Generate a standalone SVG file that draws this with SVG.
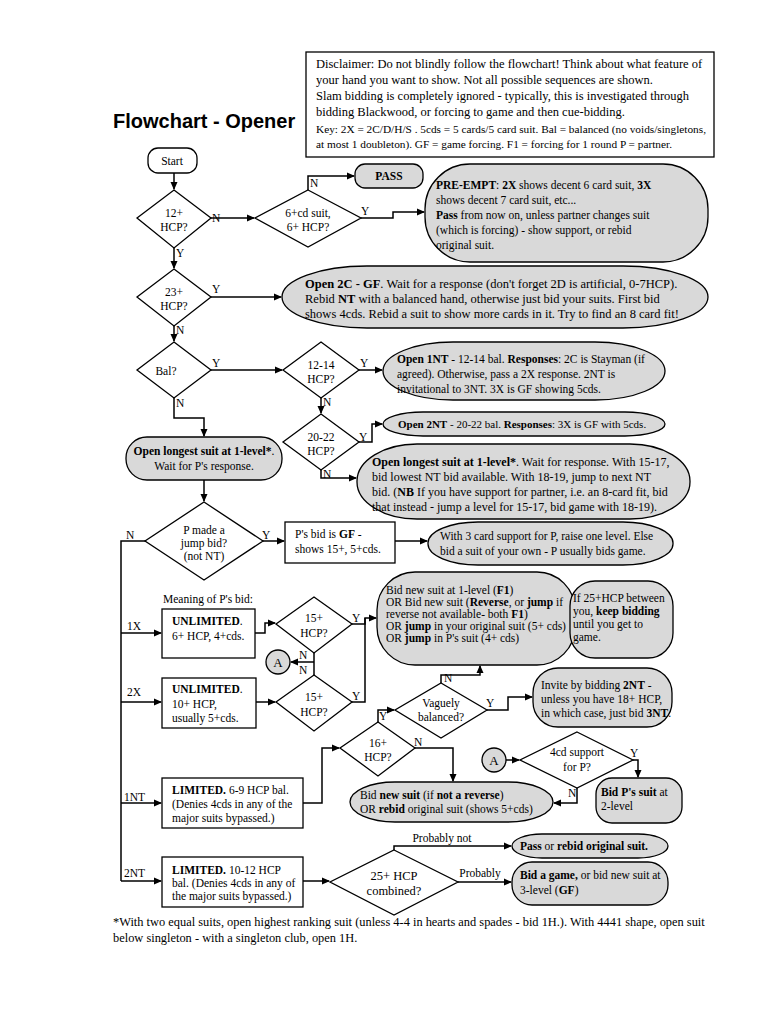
<svg xmlns="http://www.w3.org/2000/svg" width="768" height="1024" viewBox="0 0 768 1024">
<defs>
<marker id="ah" markerWidth="8" markerHeight="8" refX="7" refY="4" orient="auto" markerUnits="userSpaceOnUse">
<path d="M0,0.5 L8,4 L0,7.5 Z" fill="#000"/>
</marker>
<style>
.t{font-family:"Liberation Serif","Times New Roman",serif;font-size:11.5px;fill:#000}
.m{text-anchor:middle}
.b{font-weight:bold}
.w{fill:#fff;stroke:#000;stroke-width:1.3}
.g{fill:#d9d9d9;stroke:#000;stroke-width:1.3}
.c{fill:none;stroke:#000;stroke-width:1.5}
.a{marker-end:url(#ah)}
.lb{font-family:"Liberation Serif","Times New Roman",serif;font-size:11.5px;fill:#000}
</style>
</defs>
<rect width="768" height="1024" fill="#fff"/>

<text x="113" y="128" style="font-family:'Liberation Sans',Arial,sans-serif;font-size:20px;font-weight:bold">Flowchart - Opener</text>

<g id="disclaimer">
<rect x="306" y="52" width="408" height="105" class="w"/>
<text class="t" x="316" y="68" style="font-size:12.5px">Disclaimer: Do not blindly follow the flowchart! Think about what feature of</text>
<text class="t" x="316" y="84" style="font-size:12.5px">your hand you want to show. Not all possible sequences are shown.</text>
<text class="t" x="316" y="100" style="font-size:12.5px">Slam bidding is completely ignored - typically, this is investigated through</text>
<text class="t" x="316" y="116" style="font-size:12.5px">bidding Blackwood, or forcing to game and then cue-bidding.</text>
<text class="t" x="316" y="133" style="font-size:11.3px">Key: 2X = 2C/D/H/S . 5cds = 5 cards/5 card suit. Bal = balanced (no voids/singletons,</text>
<text class="t" x="316" y="148" style="font-size:11.3px">at most 1 doubleton). GF = game forcing. F1 = forcing for 1 round P = partner.</text>
</g>

<g id="connectors">
<path class="c a" d="M174,173 V189"/>
<path class="c a" d="M211,218 H254"/>
<path class="c a" d="M308,190 V176 H354"/>
<path class="c a" d="M361,218 H393 V212 H424"/>
<path class="c a" d="M174,248 V268"/>
<path class="c a" d="M211,297 H281"/>
<path class="c a" d="M174,326 V341"/>
<path class="c a" d="M211,370 H282"/>
<path class="c a" d="M359,370 H382"/>
<path class="c a" d="M321,398 V413"/>
<path class="c a" d="M359,442 H372 V424 H382"/>
<path class="c a" d="M321,470 V478 H356"/>
<path class="c a" d="M174,398 V418 H204 V436"/>
<path class="c a" d="M204,480 V501"/>
<path class="c a" d="M263,541 H284"/>
<path class="c a" d="M395,541 H427"/>
<path class="c" d="M145,541 H121 V881"/>
<path class="c a" d="M121,633 H161"/>
<path class="c a" d="M121,702 H161"/>
<path class="c a" d="M121,803 H161"/>
<path class="c a" d="M121,881 H161"/>
<path class="c a" d="M255,633 H265 V623 H275"/>
<path class="c a" d="M256,702 H275"/>
<path class="c a" d="M352,624 H365 V618 H376"/>
<path class="c" d="M352,702 H365 V618"/>
<path class="c" d="M314,653 V675"/>
<path class="c a" d="M314,662 H291"/>
<path class="c a" d="M303,803 H322 V748 H339"/>
<path class="c a" d="M378,722 V710 H394"/>
<path class="c a" d="M441,683 V675 H480 V666"/>
<path class="c a" d="M487,710 H508 V697 H532"/>
<path class="c a" d="M415,748 H453 V781"/>
<path class="c a" d="M506,760 H519"/>
<path class="c a" d="M633,760 H638 V777"/>
<path class="c a" d="M577,788 V803 H554"/>
<path class="c a" d="M303,881 H329"/>
<path class="c a" d="M394,850 V846 H511"/>
<path class="c a" d="M458,882 H511"/>
</g>

<g id="edge-labels">
<text class="lb" x="212" y="222">N</text>
<text class="lb" x="176" y="257">Y</text>
<text class="lb" x="310" y="187">N</text>
<text class="lb" x="361" y="215">Y</text>
<text class="lb" x="212" y="293">Y</text>
<text class="lb" x="176" y="334">N</text>
<text class="lb" x="212" y="367">Y</text>
<text class="lb" x="176" y="407">N</text>
<text class="lb" x="360" y="367">Y</text>
<text class="lb" x="323" y="406">N</text>
<text class="lb" x="359" y="441">Y</text>
<text class="lb" x="323" y="478">N</text>
<text class="lb" x="126" y="539">N</text>
<text class="lb" x="262" y="539">Y</text>
<text class="lb" x="127" y="630">1X</text>
<text class="lb" x="127" y="696">2X</text>
<text class="lb" x="124" y="801">1NT</text>
<text class="lb" x="124" y="877">2NT</text>
<text class="lb" x="352" y="622">Y</text>
<text class="lb" x="352" y="700">Y</text>
<text class="lb" x="299" y="659">N</text>
<text class="lb" x="299" y="674">N</text>
<text class="lb" x="444" y="682">N</text>
<text class="lb" x="486" y="707">Y</text>
<text class="lb" x="379" y="720">Y</text>
<text class="lb" x="414" y="746">N</text>
<text class="lb" x="630" y="757">Y</text>
<text class="lb" x="568" y="797">N</text>
<text class="lb m" x="442" y="842">Probably not</text>
<text class="lb m" x="480" y="877">Probably</text>
<text class="lb" x="163" y="603">Meaning of P's bid:</text>
</g>

<g id="start"><rect x="148" y="148" width="49" height="25" rx="10" class="w"/><text class="t m" x="172" y="165">Start</text></g>

<g id="d-12hcp"><polygon points="174,190 211,218 174,248 137,218" class="w"/><text class="t m" x="174" y="217">12+</text><text class="t m" x="174" y="231">HCP?</text></g>

<g id="d-6cd"><polygon points="308,190 361,218 308,247 255,218" class="w"/><text class="t m" x="308" y="217">6+cd suit,</text><text class="t m" x="308" y="231">6+ HCP?</text></g>

<g id="pass"><rect x="355" y="164" width="68" height="24" rx="10" class="g"/><text class="t m b" x="389" y="180">PASS</text></g>

<g id="preempt"><rect x="425" y="164" width="283" height="98" rx="45" class="g"/>
<text class="t" x="436" y="189"><tspan class="b">PRE-EMPT</tspan>: <tspan class="b">2X</tspan> shows decent 6 card suit, <tspan class="b">3X</tspan></text>
<text class="t" x="436" y="204">shows decent 7 card suit, etc...</text>
<text class="t" x="436" y="219"><tspan class="b">Pass</tspan> from now on, unless partner changes suit</text>
<text class="t" x="436" y="234">(which is forcing) - show support, or rebid</text>
<text class="t" x="436" y="249">original suit.</text>
</g>

<g id="d-23hcp"><polygon points="174,269 211,297 174,326 137,297" class="w"/><text class="t m" x="174" y="296">23+</text><text class="t m" x="174" y="310">HCP?</text></g>

<g id="open2c"><rect x="282" y="266" width="426" height="62" rx="85" ry="31" class="g"/>
<text class="t" x="305" y="288" style="font-size:12.5px"><tspan class="b">Open 2C - GF</tspan>. Wait for a response (don't forget 2D is artificial, 0-7HCP).</text>
<text class="t" x="305" y="303" style="font-size:12.5px">Rebid <tspan class="b">NT</tspan> with a balanced hand, otherwise just bid your suits. First bid</text>
<text class="t" x="305" y="318" style="font-size:12.5px">shows 4cds. Rebid a suit to show more cards in it. Try to find an 8 card fit!</text>
</g>

<g id="d-bal"><polygon points="174,342 211,370 174,398 137,370" class="w"/><text class="t m" x="166" y="375">Bal?</text></g>

<g id="d-1214"><polygon points="321,342 359,370 321,398 283,370" class="w"/><text class="t m" x="321" y="369">12-14</text><text class="t m" x="321" y="383">HCP?</text></g>

<g id="open1nt"><rect x="383" y="342" width="282" height="58" rx="70" ry="29" class="g"/>
<text class="t" x="397" y="363"><tspan class="b">Open 1NT</tspan> - 12-14 bal. <tspan class="b">Responses</tspan>: 2C is Stayman (if</text>
<text class="t" x="397" y="378">agreed). Otherwise, pass a 2X response. 2NT is</text>
<text class="t" x="397" y="393">invitational to 3NT. 3X is GF showing 5cds.</text>
</g>

<g id="d-2022"><polygon points="321,414 359,442 321,470 283,442" class="w"/><text class="t m" x="321" y="441">20-22</text><text class="t m" x="321" y="455">HCP?</text></g>

<g id="open2nt"><rect x="383" y="412" width="282" height="24" rx="40" ry="12" class="g"/>
<text class="t" x="398" y="428" style="font-size:11px"><tspan class="b">Open 2NT</tspan> - 20-22 bal. <tspan class="b">Responses</tspan>: 3X is GF with 5cds.</text>
</g>

<g id="openlongest-bal"><rect x="357" y="444" width="333" height="75" rx="60" ry="37" class="g"/>
<text class="t" x="372" y="466" style="font-size:12px"><tspan class="b">Open longest suit at 1-level*</tspan>. Wait for response. With 15-17,</text>
<text class="t" x="372" y="481" style="font-size:12px">bid lowest NT bid available. With 18-19, jump to next NT</text>
<text class="t" x="372" y="496" style="font-size:12px">bid. (<tspan class="b">NB</tspan> If you have support for partner, i.e. an 8-card fit, bid</text>
<text class="t" x="372" y="511" style="font-size:12px">that instead - jump a level for 15-17, bid game with 18-19).</text>
</g>

<g id="openlongest"><rect x="126" y="437" width="156" height="43" rx="21" class="g"/>
<text class="t m" x="204" y="455"><tspan class="b">Open longest suit at 1-level*</tspan>.</text>
<text class="t m" x="204" y="470">Wait for P's response.</text>
</g>

<g id="d-jump"><polygon points="204,502 263,541 204,580 145,541" class="w"/>
<text class="t m" x="204" y="534">P made a</text><text class="t m" x="204" y="547">jump bid?</text><text class="t m" x="204" y="560">(not NT)</text></g>

<g id="psbid"><rect x="285" y="522" width="110" height="41" class="w"/>
<text class="t" x="295" y="538">P's bid is <tspan class="b">GF</tspan> -</text>
<text class="t" x="295" y="553">shows 15+, 5+cds.</text>
</g>

<g id="with3"><rect x="428" y="522" width="245" height="43" rx="50" ry="21" class="g"/>
<text class="t" x="440" y="540">With 3 card support for P, raise one level. Else</text>
<text class="t" x="440" y="555">bid a suit of your own - P usually bids game.</text>
</g>

<g id="box-1x"><rect x="162" y="609" width="93" height="49" class="w"/>
<text class="t" x="172" y="625"><tspan class="b">UNLIMITED</tspan>.</text>
<text class="t" x="172" y="640">6+ HCP, 4+cds.</text>
</g>

<g id="d-15a"><polygon points="314,597 352,624 314,653 276,624" class="w"/><text class="t m" x="314" y="622">15+</text><text class="t m" x="314" y="637">HCP?</text></g>

<g id="box-2x"><rect x="162" y="678" width="94" height="50" class="w"/>
<text class="t" x="172" y="693"><tspan class="b">UNLIMITED</tspan>.</text>
<text class="t" x="172" y="708">10+ HCP,</text>
<text class="t" x="172" y="722">usually 5+cds.</text>
</g>

<g id="d-15b"><polygon points="314,675 352,702 314,731 276,702" class="w"/><text class="t m" x="314" y="701">15+</text><text class="t m" x="314" y="716">HCP?</text></g>

<g id="a1"><circle cx="278" cy="662" r="12" class="g"/><text class="t m" x="278" y="667" style="font-size:13px">A</text></g>

<g id="bignew"><rect x="377" y="572" width="198" height="93" rx="38" class="g"/>
<text class="t" x="386" y="594">Bid new suit at 1-level (<tspan class="b">F1</tspan>)</text>
<text class="t" x="386" y="606">OR Bid new suit (<tspan class="b">Reverse</tspan>, or <tspan class="b">jump</tspan> if</text>
<text class="t" x="386" y="618">reverse not available- both <tspan class="b">F1</tspan>)</text>
<text class="t" x="386" y="630">OR <tspan class="b">jump</tspan> in your original suit (5+ cds)</text>
<text class="t" x="386" y="642">OR <tspan class="b">jump</tspan> in P's suit (4+ cds)</text>
</g>

<g id="keepbid"><rect x="570" y="581" width="103" height="77" rx="25" class="g"/>
<text class="t" x="573" y="602">If 25+HCP between</text>
<text class="t" x="573" y="615">you, <tspan class="b">keep bidding</tspan></text>
<text class="t" x="573" y="628">until you get to</text>
<text class="t" x="573" y="641">game.</text>
</g>

<g id="d-vague"><polygon points="441,683 487,710 441,738 395,710" class="w"/><text class="t m" x="441" y="707">Vaguely</text><text class="t m" x="441" y="721">balanced?</text></g>

<g id="invite"><rect x="533" y="668" width="139" height="59" rx="25" class="g"/>
<text class="t" x="541" y="689">Invite by bidding <tspan class="b">2NT</tspan> -</text>
<text class="t" x="541" y="703">unless you have 18+ HCP,</text>
<text class="t" x="541" y="717">in which case, just bid <tspan class="b">3NT</tspan>.</text>
</g>

<g id="d-16"><polygon points="378,722 415,748 378,776 340,748" class="w"/><text class="t m" x="378" y="747">16+</text><text class="t m" x="378" y="761">HCP?</text></g>

<g id="box-1nt"><rect x="162" y="778" width="141" height="50" class="w"/>
<text class="t" x="172" y="794"><tspan class="b">LIMITED.</tspan> 6-9 HCP bal.</text>
<text class="t" x="172" y="808">(Denies 4cds in any of the</text>
<text class="t" x="172" y="822">major suits bypassed.)</text>
</g>

<g id="bidnewsuit"><rect x="350" y="782" width="203" height="40" rx="45" ry="20" class="g"/>
<text class="t" x="360" y="799">Bid <tspan class="b">new suit</tspan> (if <tspan class="b">not a reverse</tspan>)</text>
<text class="t" x="360" y="813">OR <tspan class="b">rebid</tspan> original suit (shows 5+cds)</text>
</g>

<g id="a2"><circle cx="494" cy="760" r="12" class="g"/><text class="t m" x="494" y="765" style="font-size:13px">A</text></g>

<g id="d-4cd"><polygon points="577,732 633,760 577,788 520,760" class="w"/><text class="t m" x="577" y="756">4cd support</text><text class="t m" x="577" y="771">for P?</text></g>

<g id="bidps"><rect x="596" y="778" width="86" height="45" rx="16" class="g"/>
<text class="t" x="601" y="796"><tspan class="b">Bid P's suit</tspan> at</text>
<text class="t" x="601" y="810">2-level</text>
</g>

<g id="box-2nt"><rect x="162" y="857" width="141" height="50" class="w"/>
<text class="t" x="172" y="874"><tspan class="b">LIMITED.</tspan> 10-12 HCP</text>
<text class="t" x="172" y="887">bal. (Denies 4cds in any of</text>
<text class="t" x="172" y="900">the major suits bypassed.)</text>
</g>

<g id="d-25"><polygon points="394,850 458,882 394,915 330,882" class="w"/><text class="t m" x="394" y="880" style="font-size:12.5px">25+ HCP</text><text class="t m" x="394" y="895" style="font-size:12.5px">combined?</text></g>

<g id="passrebid"><rect x="512" y="834" width="156" height="24" rx="30" ry="12" class="g"/>
<text class="t" x="520" y="850"><tspan class="b">Pass</tspan> or <tspan class="b">rebid original suit.</tspan></text>
</g>

<g id="bidgame"><rect x="512" y="862" width="156" height="43" rx="20" class="g"/>
<text class="t" x="520" y="879"><tspan class="b">Bid a game,</tspan> or bid new suit at</text>
<text class="t" x="520" y="894">3-level (<tspan class="b">GF</tspan>)</text>
</g>

<g id="footnote">
<text class="t" x="113" y="926" style="font-size:12.4px">*With two equal suits, open highest ranking suit (unless 4-4 in hearts and spades - bid 1H.). With 4441 shape, open suit</text>
<text class="t" x="113" y="942" style="font-size:12.4px">below singleton - with a singleton club, open 1H.</text>
</g>
</svg>
